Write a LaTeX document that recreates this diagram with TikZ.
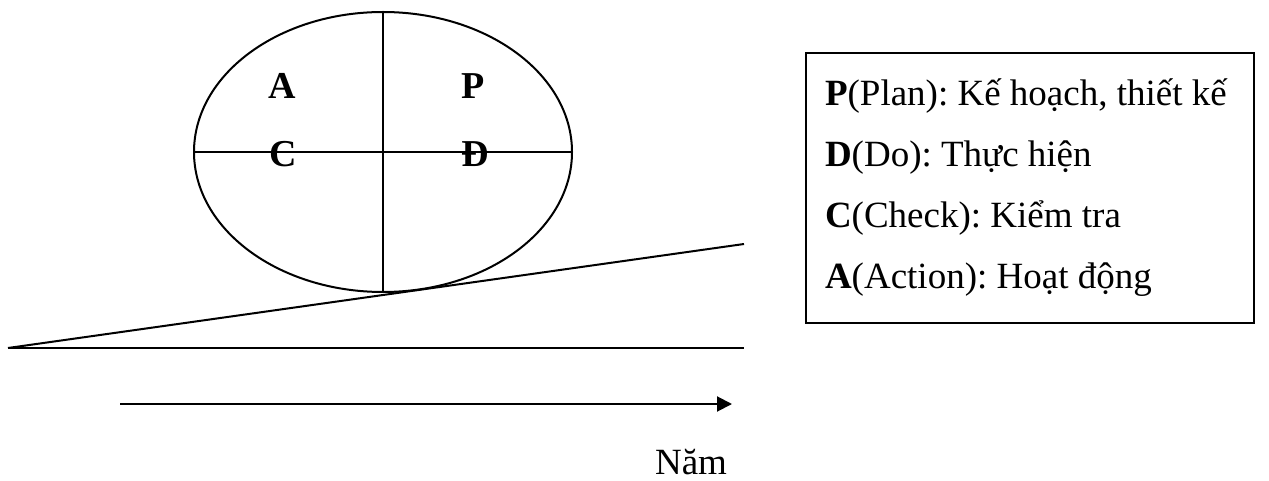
\documentclass[tikz,border=0pt]{standalone}
\usepackage{fontspec}
\setmainfont{Liberation Serif}
\usetikzlibrary{positioning,shapes.geometric,arrows.meta}
\frenchspacing

\begin{document}
\begin{tikzpicture}[
		x=1pt, y=-1pt
		,line width=2pt
		,every node/.append style={font=\fontsize{37}{61}\selectfont}
		,letter/.style={font=\fontsize{38}{61}\selectfont\bfseries, inner sep=0pt, anchor=base}
		,legend/.style={draw, align=flush left, text width=410pt, inner xsep=19pt, minimum height=270pt, anchor=north west}
	]
	\useasboundingbox (0,0) rectangle (1269,481);
	% the cycle
	\node [ellipse, draw, minimum width=378pt, minimum height=280pt, inner sep=0pt] (E) at (383,152) {};
	\draw (E.north) -- (E.south);
	\draw (E.west) -- (E.east);
	\node [letter] (A) at (282,99) {A};
	\node [letter] (P) at (473,99) {P};
	\node [letter] (C) at (283,167) {C};
	\node [letter] (D) at (475,167) {Đ};
	% slope and ground
	\coordinate (O) at (8,348);
	\coordinate (S) at (744,244);
	\coordinate (G) at (744,348);
	\draw (O) -- (S);
	\draw (O) -- (G);
	% time axis
	\coordinate (T0) at (120,404);
	\coordinate (T1) at (732,404);
	\draw [-{Triangle[length=15pt,width=15pt]}] (T0) -- (T1);
	\node [anchor=base, inner sep=0pt] (year) at (691,474) {Năm};
	% legend
	\node [legend] (key) at (805,52) {%
		\textbf{P}(Plan): Kế hoạch, thiết kế\\
		\textbf{D}(Do): Thực hiện\\
		\textbf{C}(Check): Kiểm tra\\
		\textbf{A}(Action): Hoạt động};
\end{tikzpicture}
\end{document}
